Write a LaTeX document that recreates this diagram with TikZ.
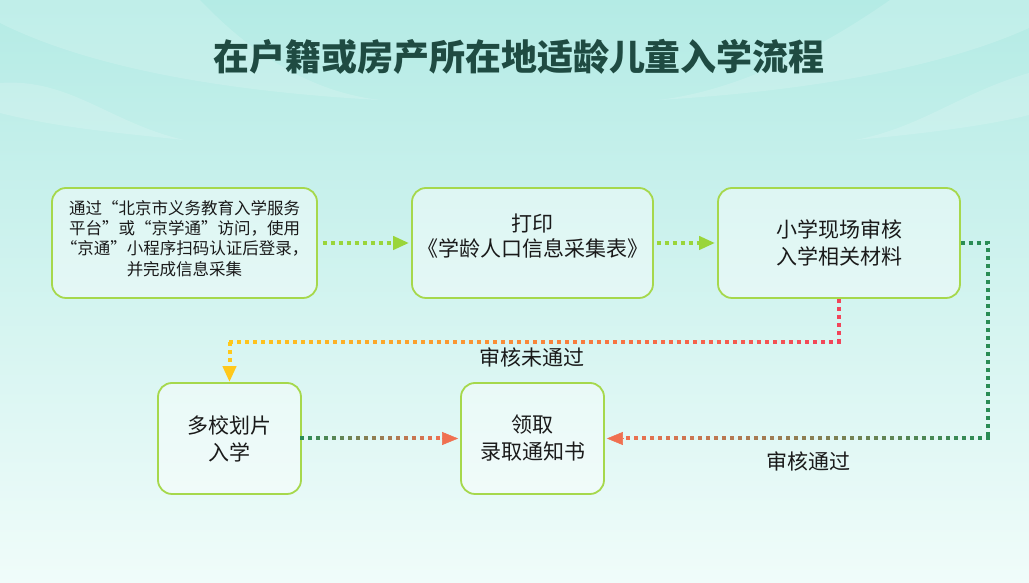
\documentclass[tikz,border=0pt]{standalone}
\usepackage{fontspec}
\setmainfont{Noto Sans CJK SC}
\usetikzlibrary{arrows.meta,calc,decorations.markings}
\definecolor{bgtop}{HTML}{B4EBE5}
\definecolor{bgbot}{HTML}{F0FCFA}
\definecolor{boxgreen}{HTML}{A6D84C}
\definecolor{lgreen}{HTML}{9AD53A}
\definecolor{dgreen}{HTML}{2A8C55}
\definecolor{cred}{HTML}{F2445A}
\definecolor{cyellow}{HTML}{FFC81A}
\definecolor{corange}{HTML}{F07050}
\definecolor{titlecol}{HTML}{1F4B42}
\definecolor{txt}{HTML}{1A1A1A}
\newcommand\liftbox[2]{\raisebox{#1}[\height][\depth]{\begin{tabular}{@{}c@{}}#2\end{tabular}}}
\begin{document}
\begin{tikzpicture}[x=1pt,y=1pt,
  box/.style={draw=boxgreen,line width=1.8pt,rounded corners=14pt,fill=white,fill opacity=0.4,text opacity=1,text=txt,align=center,font=\fontsize{21}{27}\selectfont,inner sep=0pt},
  dotline/.style={line width=4pt,dash pattern=on 4pt off 4pt},
  tipstyle/.style={-{Triangle[length=16pt,width=13pt]}},
  lbl/.style={text=txt,font=\fontsize{21}{24}\selectfont,inner sep=0pt},
  swoosh/.style={fill=white,opacity=0.16},
  gradline/.style 2 args={decorate,decoration={markings,
    mark=between positions 0 and 1 step 8pt with {%
      \pgfmathsetmacro\pct{100*(\pgfkeysvalueof{/pgf/decoration/mark info/distance from start}/\pgfdecoratedpathlength)}%
      \fill[color=#2!\pct!#1] (-2pt,-2pt) rectangle (2pt,2pt);}}}]
\useasboundingbox (0,0) rectangle (1029,583);
\shade[top color=bgtop,bottom color=bgbot] (0,0) rectangle (1029,583);
% decorative swooshes
\fill[swoosh] (0,583) -- (200,583) .. controls (260,520) and (320,490) .. (380,483) .. controls (250,490) and (100,510) .. (0,560) -- cycle;
\fill[swoosh] (0,500) .. controls (70,505) and (110,460) .. (184,443) .. controls (120,450) and (60,455) .. (0,470) -- cycle;
\fill[swoosh] (1029,583) -- (890,583) .. controls (800,520) and (720,490) .. (658,483) .. controls (780,490) and (930,510) .. (1029,555) -- cycle;
\fill[swoosh] (1029,510) .. controls (960,490) and (920,455) .. (855,443) .. controls (930,450) and (990,458) .. (1029,468) -- cycle;
% title
\node[text=titlecol,font=\fontsize{36}{40}\selectfont\bfseries] (title) at (519,526) {在户籍或房产所在地适龄儿童入学流程};
% boxes
\node[box,minimum width=265pt,minimum height=110pt,font=\fontsize{16.5}{20}\selectfont] (b1) at (184.5,340)
  {\liftbox{2pt}{通过“北京市义务教育入学服务\\平台”或“京学通”访问，使用\\“京通”小程序扫码认证后登录，\\并完成信息采集}};
\node[box,minimum width=241pt,minimum height=110pt,font=\fontsize{21}{25.5}\selectfont] (b2) at (532.5,340)
  {\liftbox{4pt}{打印\\《学龄人口信息采集表》}};
\node[box,minimum width=242pt,minimum height=110pt] (b3) at (839,340) {小学现场审核\\入学相关材料};
\node[box,minimum width=143pt,minimum height=111pt] (b4) at (229.5,144.5) {多校划片\\入学};
\node[box,minimum width=143pt,minimum height=111pt] (b5) at (532.5,144.5) {领取\\录取通知书};
\coordinate (k) at (988,340);
\coordinate (n1) at ($(b3.south)+(0,-43)$);
\coordinate (n2) at (n1 -| b4.north);
\coordinate (n3) at (k |- b5.east);
% connectors
\draw[dotline,tipstyle,lgreen,shorten <=5pt,shorten >=2pt] (b1.east) -- (b2.west);
\draw[dotline,tipstyle,lgreen,shorten <=3pt,shorten >=2pt] (b2.east) -- (b3.west);
% not passed: red -> yellow
\draw[dotline,cred] (b3.south) -- (n1);
\path[gradline={cred}{cyellow}] (n1) -- (n2);
\draw[dotline,tipstyle,cyellow] (n2) -- (b4.north);
% passed: green -> orange
\draw[dotline,dgreen] (b3.east) -- (k) -- (n3);
\path[gradline={dgreen}{corange}] (n3) -- ($(b5.east)+(18,0)$);
\draw[tipstyle,corange,line width=0.5pt] ($(b5.east)+(18,0)$) -- ($(b5.east)+(2,0)$);
% b4 -> b5
\path[gradline={dgreen}{corange}] (b4.east) -- ($(b5.west)+(-18,0)$);
\draw[tipstyle,corange,line width=0.5pt] ($(b5.west)+(-18,0)$) -- ($(b5.west)+(-2,0)$);
% labels
\node[lbl] (l1) at (532,226) {审核未通过};
\node[lbl] (l2) at (808,122) {审核通过};
\end{tikzpicture}
\end{document}
